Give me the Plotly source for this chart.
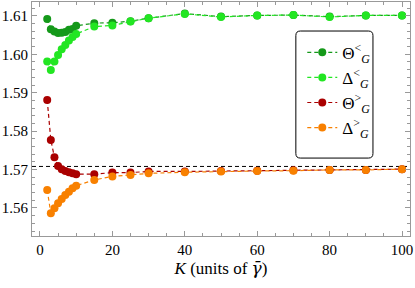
import plotly.graph_objects as go

K = [2, 3, 4, 5, 6, 7, 8, 9, 10, 15, 20, 25, 30, 40, 50, 60, 70, 80, 90, 100]

theta_lt = [1.6092, 1.6065, 1.6059, 1.6055, 1.6056, 1.6058, 1.6064, 1.6066, 1.6074,
            1.6081, 1.6082, 1.6086, 1.6094, 1.6106, 1.6098, 1.6101, 1.6102, 1.6098, 1.6101, 1.6101]
delta_lt = [1.5981, 1.5959, 1.5981, 1.5998, 1.6013, 1.6024, 1.6036, 1.6045, 1.6053,
            1.6072, 1.6075, 1.6085, 1.6094, 1.6105, 1.6097, 1.6101, 1.6102, 1.6097, 1.6101, 1.6101]
theta_gt = [1.5881, 1.5777, 1.5732, 1.5709, 1.5701, 1.5696, 1.5693, 1.5690, 1.5688,
            1.5688, 1.5692, 1.5692, 1.5695, 1.5695, 1.5696, 1.5697, 1.5698, 1.5699, 1.5699, 1.5701]
delta_gt = [1.5647, 1.5586, 1.5599, 1.5612, 1.5623, 1.5634, 1.5642, 1.5651, 1.5658,
            1.5673, 1.5682, 1.5686, 1.5690, 1.5693, 1.5695, 1.5696, 1.5697, 1.5699, 1.5699, 1.5701]

REF = 1.5708  # pi/2

names = ["Θ<sup>&lt;</sup><sub><i>G</i></sub>", "Δ<sup>&lt;</sup><sub><i>G</i></sub>",
         "Θ<sup>&gt;</sup><sub><i>G</i></sub>", "Δ<sup>&gt;</sup><sub><i>G</i></sub>"]
series = [theta_lt, delta_lt, theta_gt, delta_gt]
colors = ["#15991a", "#22e622", "#aa0000", "#f88000"]

FONT = "Liberation Serif"

fig = go.Figure()
for nm, ys, c in zip(names, series, colors):
    fig.add_trace(go.Scatter(
        x=K, y=ys, name=nm, mode="lines+markers",
        line=dict(color=c, width=1.2, dash="4px,3px"),
        marker=dict(color=c, size=8),
    ))

fig.add_shape(type="line", xref="paper", x0=0, x1=1, yref="y", y0=REF, y1=REF,
              line=dict(color="black", width=1, dash="4px,3px"), layer="below")

# rounded legend frame
x0, x1, y0, y1, r = 0.698, 0.902, 0.333, 0.876, 0.012
ry = r * 378 / 234
path = (f"M {x0+r},{y0} L {x1-r},{y0} Q {x1},{y0} {x1},{y0+ry} "
        f"L {x1},{y1-ry} Q {x1},{y1} {x1-r},{y1} L {x0+r},{y1} Q {x0},{y1} {x0},{y1-ry} "
        f"L {x0},{y0+ry} Q {x0},{y0} {x0+r},{y0} Z")
fig.add_shape(type="path", xref="paper", yref="paper", path=path,
              line=dict(color="black", width=1), fillcolor="white", layer="above")

axis_common = dict(
    showline=True, linecolor="#999999", linewidth=1, mirror="ticks",
    ticks="inside", ticklen=5, tickcolor="#999999", tickwidth=1,
    showgrid=False, zeroline=False, automargin=False,
    ticklabeloverflow="allow",
    tickfont=dict(family=FONT, size=15, color="black"),
)

fig.update_xaxes(range=[-2.2, 102.2], tickmode="array", tickvals=[0, 20, 40, 60, 80, 100],
                 minor=dict(dtick=5, ticks="inside", ticklen=3, tickcolor="#999999", showgrid=False),
                 title=dict(text="<i>K</i> (units of <span style='font-family:DejaVu Serif'><i>γ̄</i></span>)",
                            font=dict(family=FONT, size=17, color="black"), standoff=4),
                 **axis_common)
fig.update_yaxes(range=[1.5527, 1.6136], tickmode="array",
                 tickvals=[1.56, 1.57, 1.58, 1.59, 1.60, 1.61],
                 ticktext=["1.56", "1.57", "1.58", "1.59", "1.60", "1.61"],
                 minor=dict(dtick=0.002, ticks="inside", ticklen=3, tickcolor="#999999", showgrid=False),
                 **axis_common)

fig.update_layout(
    width=415, height=288,
    margin=dict(l=32, r=5, t=2, b=52),
    plot_bgcolor="white", paper_bgcolor="white",
    font=dict(family=FONT, size=16, color="black"),
    showlegend=True,
    legend=dict(x=0.715, y=0.86, xanchor="left", yanchor="top", bgcolor="rgba(0,0,0,0)",
                borderwidth=0, font=dict(family=FONT, size=17), itemwidth=30,
                tracegroupgap=0),
)

fig.write_html("out.html", config={"displayModeBar": False},
               post_script="document.body.style.margin='0';")
